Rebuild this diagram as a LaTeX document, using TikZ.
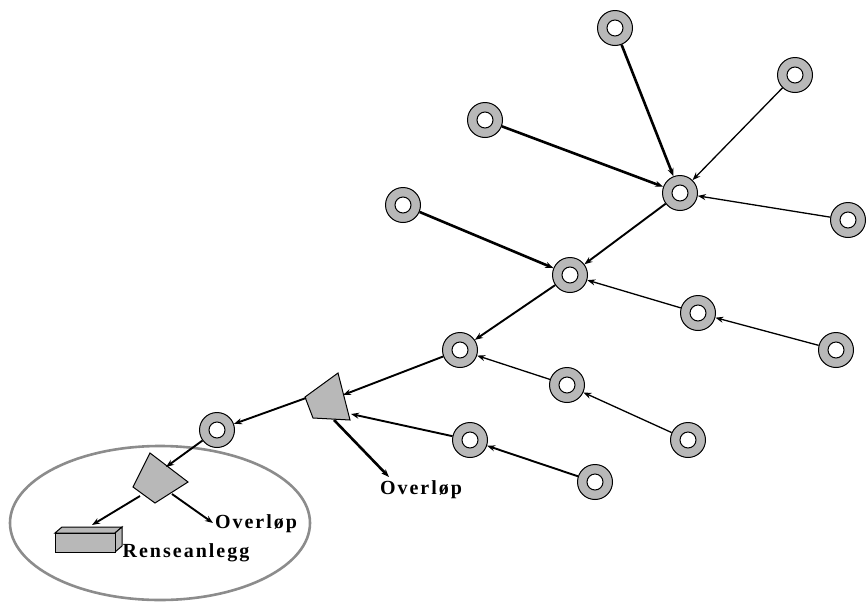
\documentclass[tikz,border=0pt]{standalone}
\usepackage{fontspec}
\newfontfamily\lblfont[LetterSpace=10]{Liberation Serif}
\usetikzlibrary{arrows.meta}
\definecolor{ringgray}{gray}{0.72}
\definecolor{shapegray}{gray}{0.72}
\definecolor{rimgray}{gray}{0.55}
\begin{document}
\begin{tikzpicture}[x=1pt,y=-1pt,
  manhole/.style={circle,draw=black,line width=1pt,fill=ringgray,minimum size=35pt,inner sep=0pt,
    path picture={\draw[line width=1pt,fill=white] (path picture bounding box.center) circle (8pt);}},
  pipe/.style={-{Stealth[length=8pt,width=6pt]},line width=1.3pt},
  pipemid/.style={-{Stealth[length=8pt,width=6pt]},line width=1.9pt},
  pipethick/.style={-{Stealth[length=8pt,width=6pt]},line width=2.6pt},
  basin/.style={draw=black,line width=1pt,fill=shapegray},
  lbl/.style={font=\lblfont\bfseries\fontsize{20}{23}\selectfont,inner sep=0pt}]
\useasboundingbox (0,0) rectangle (868,603);

% treatment area
\draw[rimgray,line width=2.6pt] (160,523) ellipse (150pt and 77pt);

% manholes
\node[manhole] (A) at (615,28) {};
\node[manhole] (B) at (795,75) {};
\node[manhole] (C) at (485,120) {};
\node[manhole] (D) at (680,193) {};
\node[manhole] (E) at (848,220) {};
\node[manhole] (F) at (403,205) {};
\node[manhole] (G) at (570,275) {};
\node[manhole] (H) at (698,313) {};
\node[manhole] (I) at (836,350) {};
\node[manhole] (J) at (460,350) {};
\node[manhole] (K) at (567,385) {};
\node[manhole] (L) at (688,440) {};
\node[manhole] (M) at (470,440) {};
\node[manhole] (N) at (595,482) {};
\node[manhole] (O) at (217,430) {};

% overflow chamber in the network
\draw[basin] (338,373) -- (350,420) -- (313,418) -- (305,397) -- cycle;
\coordinate (q1a) at (343,395);
\coordinate (q1b) at (351,414);
\coordinate (q1o) at (306,398);
\coordinate (q1v) at (334,420);

% overflow chamber at the plant
\draw[basin] (150,453) -- (188,482) -- (155,503) -- (133,487) -- cycle;
\coordinate (q2in) at (166,467);
\coordinate (q2r) at (140,496);
\coordinate (q2v) at (172,494);

% treatment plant box
\draw[basin] (55,533) -- (62,527) -- (122,527) -- (115,533) -- cycle;
\draw[basin] (115,533) -- (122,527) -- (122,546) -- (115,552) -- cycle;
\draw[basin] (55,533) rectangle (115,552);
\coordinate (box) at (92,525);

% labels
\node[lbl] (ov1) at (421,490) {Overløp};
\node[lbl] (ov2) at (256,524) {Overløp};
\node[lbl] (rens) at (186,553) {Renseanlegg};
\coordinate (ov1in) at (389,477);
\coordinate (ov2in) at (213,523);

% pipes
\draw[pipethick] (A) -- (D);
\draw[pipe] (B) -- (D);
\draw[pipethick] (C) -- (D);
\draw[pipe] (E) -- (D);
\draw[pipemid] (D) -- (G);
\draw[pipethick] (F) -- (G);
\draw[pipe] (H) -- (G);
\draw[pipe] (I) -- (H);
\draw[pipemid] (G) -- (J);
\draw[pipe] (K) -- (J);
\draw[pipemid] (J) -- (q1a);
\draw[pipe] (L) -- (K);
\draw[pipemid] (M) -- (q1b);
\draw[pipemid] (N) -- (M);
\draw[pipemid] (q1o) -- (O);
\draw[pipethick] (q1v) -- (ov1in);
\draw[pipemid] (O) -- (q2in);
\draw[pipemid] (q2r) -- (box);
\draw[pipemid] (q2v) -- (ov2in);
\end{tikzpicture}
\end{document}
